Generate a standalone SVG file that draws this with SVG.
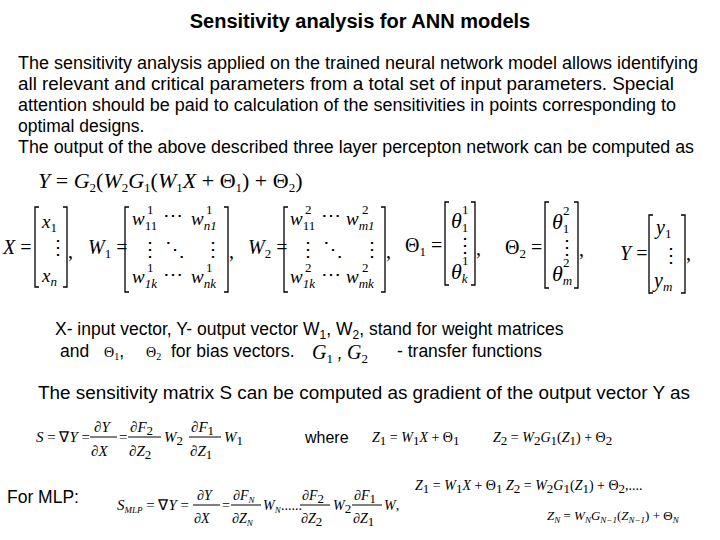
<svg xmlns="http://www.w3.org/2000/svg" width="720" height="540" viewBox="0 0 720 540">
<style>
.t{font-family:"Liberation Sans",Arial,sans-serif;font-size:17.5px;fill:#000}
.m{font-family:"Liberation Serif","Times New Roman",serif;font-style:italic;font-size:20px;fill:#000}
.r{font-family:"Liberation Serif","Times New Roman",serif;font-style:normal;font-size:20px;fill:#000}
.s{font-size:13px}
.e{font-size:19px}
.b{fill:none;stroke:#000;stroke-width:1.3}
.bar{stroke:#000;stroke-width:1}
</style>
<rect width="720" height="540" fill="#fff"/>
<text x="360" y="28" text-anchor="middle" class="t" style="font-size:20px;font-weight:bold">Sensitivity analysis for ANN models</text>
<text x="18" y="69" class="t" textLength="680" lengthAdjust="spacingAndGlyphs">The sensitivity analysis applied on the trained neural network model allows identifying</text>
<text x="18" y="90" class="t" textLength="656" lengthAdjust="spacingAndGlyphs">all relevant and critical parameters from a total set of input parameters. Special</text>
<text x="18" y="111" class="t" textLength="658" lengthAdjust="spacingAndGlyphs">attention should be paid to calculation of the sensitivities in points corresponding to</text>
<text x="18" y="132" class="t">optimal designs.</text>
<text x="18" y="153" class="t" textLength="676" lengthAdjust="spacingAndGlyphs">The output of the above described three layer percepton network can be computed as</text>
<text x="38" y="188" class="m" style="font-size:22px">Y <tspan class="r" style="font-size:22px">=</tspan> G<tspan class="s r" dy="4">2</tspan><tspan dy="-4" class="r" style="font-size:22px">(</tspan>W<tspan class="s r" dy="4">2</tspan><tspan dy="-4">G</tspan><tspan class="s r" dy="4">1</tspan><tspan dy="-4" class="r" style="font-size:22px">(</tspan>W<tspan class="s r" dy="4">1</tspan><tspan dy="-4">X</tspan><tspan class="r" style="font-size:22px"> + Θ</tspan><tspan class="s r" dy="4">1</tspan><tspan dy="-4" class="r" style="font-size:22px">) + Θ</tspan><tspan class="s r" dy="4">2</tspan><tspan dy="-4" class="r" style="font-size:22px">)</tspan></text>
<g id="X">
<text x="3" y="254" class="m">X <tspan class="r">=</tspan></text>
<path class="b" d="M39 207H35V287H39M63 207H67V287H63"/>
<text x="42" y="228" class="m e">x<tspan class="s r" dy="4">1</tspan></text>
<text x="48" y="254" class="r">⋮</text>
<text x="42" y="282" class="m e">x<tspan class="s" dy="4">n</tspan></text>
<text x="68" y="258" class="r">,</text>
</g>
<g id="W1">
<text x="88" y="254" class="m">W<tspan class="s r" dy="4">1</tspan><tspan dy="-4" class="r"> =</tspan></text>
<path class="b" d="M129 207H125V292H129M224 207H228V292H224"/>
<text x="132" y="225" class="m e">w<tspan class="s r" dy="5">11</tspan></text><text x="147" y="214" class="r s">1</text>
<text x="163" y="222" class="r">⋯</text>
<text x="191" y="225" class="m e">w<tspan class="s" dy="5">n1</tspan></text><text x="206" y="214" class="r s">1</text>
<text x="140" y="256" class="r">⋮</text><text x="165" y="256" class="r">⋱</text><text x="203" y="256" class="r">⋮</text>
<text x="132" y="283" class="m e">w<tspan class="s" dy="5">1k</tspan></text><text x="147" y="272" class="r s">1</text>
<text x="163" y="281" class="r">⋯</text>
<text x="191" y="283" class="m e">w<tspan class="s" dy="5">nk</tspan></text><text x="206" y="272" class="r s">1</text>
<text x="229" y="258" class="r">,</text>
</g>
<g id="W2">
<text x="248" y="254" class="m">W<tspan class="s r" dy="4">2</tspan><tspan dy="-4" class="r"> =</tspan></text>
<path class="b" d="M288 207H284V292H288M381 207H385V292H381"/>
<text x="290" y="225" class="m e">w<tspan class="s r" dy="5">11</tspan></text><text x="305" y="214" class="r s">2</text>
<text x="321" y="222" class="r">⋯</text>
<text x="346" y="225" class="m e">w<tspan class="s" dy="5">m1</tspan></text><text x="362" y="214" class="r s">2</text>
<text x="298" y="256" class="r">⋮</text><text x="323" y="256" class="r">⋱</text><text x="362" y="256" class="r">⋮</text>
<text x="290" y="283" class="m e">w<tspan class="s" dy="5">1k</tspan></text><text x="305" y="272" class="r s">2</text>
<text x="321" y="281" class="r">⋯</text>
<text x="346" y="283" class="m e">w<tspan class="s" dy="5">mk</tspan></text><text x="362" y="272" class="r s">2</text>
<text x="386" y="258" class="r">,</text>
</g>
<g id="T1">
<text x="405" y="252" class="r">Θ<tspan class="s" dy="4">1</tspan><tspan dy="-4"> =</tspan></text>
<path class="b" d="M449 202H445V285H449M471 202H475V285H471"/>
<text x="451" y="228" class="m" style="font-size:22px">θ<tspan class="s r" dy="4">1</tspan></text><text x="462" y="214" class="r s">1</text>
<text x="455" y="252" class="r">⋮</text>
<text x="451" y="279" class="m" style="font-size:22px">θ<tspan class="s" dy="4">k</tspan></text><text x="462" y="265" class="r s">1</text>
<text x="476" y="255" class="r">,</text>
</g>
<g id="T2">
<text x="505" y="254" class="r">Θ<tspan class="s" dy="4">2</tspan><tspan dy="-4"> =</tspan></text>
<path class="b" d="M549 202H545V288H549M574 202H578V288H574"/>
<text x="552" y="229" class="m" style="font-size:22px">θ<tspan class="s r" dy="4">1</tspan></text><text x="563" y="215" class="r s">2</text>
<text x="557" y="254" class="r">⋮</text>
<text x="552" y="281" class="m" style="font-size:22px">θ<tspan class="s" dy="4">m</tspan></text><text x="563" y="267" class="r s">2</text>
<text x="579" y="256" class="r">,</text>
</g>
<g id="Y">
<text x="620" y="260" class="m">Y <tspan class="r">=</tspan></text>
<path class="b" d="M653 215H649V293H653M681 215H685V293H681"/>
<text x="656" y="234" class="m">y<tspan class="s r" dy="4">1</tspan></text>
<text x="661" y="262" class="r">⋮</text>
<text x="654" y="287" class="m">y<tspan class="s" dy="4">m</tspan></text>
<text x="686" y="260" class="r">,</text>
</g>
<text x="55" y="335" class="t">X- input vector,   Y-  output vector W<tspan dy="4" style="font-size:12px">1</tspan><tspan dy="-4">, W</tspan><tspan dy="4" style="font-size:12px">2</tspan><tspan dy="-4">, stand for weight matrices</tspan></text>
<text x="60" y="357" class="t">and</text>
<text x="104" y="357" class="r" style="font-size:14px">Θ<tspan style="font-size:10px" dy="3">1</tspan><tspan dy="-3" class="t">,</tspan></text>
<text x="146" y="357" class="r" style="font-size:14px">Θ<tspan style="font-size:10px" dy="3">2</tspan></text>
<text x="171" y="357" class="t">for bias vectors.</text>
<text x="312" y="359" class="m">G<tspan class="s r" dy="4">1</tspan><tspan dy="-4" class="t"> ,</tspan></text>
<text x="347" y="359" class="m">G<tspan class="s r" dy="4">2</tspan></text>
<text x="397" y="357" class="t">- transfer functions</text>
<text x="38" y="399" class="t" textLength="652" lengthAdjust="spacingAndGlyphs">The sensitivity matrix S can be computed as gradient of the output vector Y as</text>
<g id="S">
<text x="36" y="442" class="m" style="font-size:15px">S <tspan class="r" style="font-size:15px">= ∇</tspan>Y <tspan class="r" style="font-size:15px">=</tspan></text>
<text x="94" y="432" class="m" style="font-size:15px">∂Y</text><line class="bar" x1="90" y1="437" x2="117" y2="437"/><text x="91" y="456" class="m" style="font-size:15px">∂X</text>
<text x="119" y="442" class="r" style="font-size:15px">=</text>
<text x="130" y="432" class="m" style="font-size:15px">∂F<tspan class="s r" dy="3">2</tspan></text><line class="bar" x1="128" y1="437" x2="161" y2="437"/><text x="129" y="456" class="m" style="font-size:15px">∂Z<tspan class="s r" dy="3">2</tspan></text>
<text x="164" y="442" class="m" style="font-size:15px">W<tspan class="s r" dy="3">2</tspan></text>
<text x="191" y="432" class="m" style="font-size:15px">∂F<tspan class="s r" dy="3">1</tspan></text><line class="bar" x1="189" y1="437" x2="221" y2="437"/><text x="190" y="456" class="m" style="font-size:15px">∂Z<tspan class="s r" dy="3">1</tspan></text>
<text x="224" y="442" class="m" style="font-size:15px">W<tspan class="s r" dy="3">1</tspan></text>
</g>
<text x="305" y="443" class="t" style="font-size:16px">where</text>
<text x="372" y="442" class="m" style="font-size:14px">Z<tspan class="s r" dy="3">1</tspan><tspan dy="-3" class="r" style="font-size:14px"> = </tspan>W<tspan class="s r" dy="3">1</tspan><tspan dy="-3">X</tspan><tspan class="r" style="font-size:14px"> + Θ</tspan><tspan class="s r" dy="3">1</tspan></text>
<text x="493" y="442" class="m" style="font-size:14px">Z<tspan class="s r" dy="3">2</tspan><tspan dy="-3" class="r" style="font-size:14px"> = </tspan>W<tspan class="s r" dy="3">2</tspan><tspan dy="-3">G</tspan><tspan class="s r" dy="3">1</tspan><tspan dy="-3" class="r" style="font-size:14px">(</tspan>Z<tspan class="s r" dy="3">1</tspan><tspan dy="-3" class="r" style="font-size:14px">) + Θ</tspan><tspan class="s r" dy="3">2</tspan></text>
<text x="7" y="503" class="t">For MLP:</text>
<g id="SMLP">
<text x="117" y="510" class="m" style="font-size:15px">S<tspan style="font-size:9px" dy="3">MLP</tspan><tspan dy="-3" class="r" style="font-size:15px"> = ∇</tspan>Y <tspan class="r" style="font-size:15px">=</tspan></text>
<text x="197" y="500" class="m" style="font-size:14px">∂Y</text><line class="bar" x1="193" y1="505" x2="220" y2="505"/><text x="194" y="523" class="m" style="font-size:14px">∂X</text>
<text x="222" y="510" class="r" style="font-size:14px">=</text>
<text x="233" y="500" class="m" style="font-size:14px">∂F<tspan style="font-size:9px" dy="3">N</tspan></text><line class="bar" x1="231" y1="505" x2="261" y2="505"/><text x="232" y="523" class="m" style="font-size:14px">∂Z<tspan style="font-size:9px" dy="3">N</tspan></text>
<text x="263" y="510" class="m" style="font-size:14px">W<tspan style="font-size:9px" dy="3">N</tspan></text>
<text x="281" y="510" class="r" style="font-size:14px">......</text>
<text x="302" y="500" class="m" style="font-size:14px">∂F<tspan class="s r" dy="3">2</tspan></text><line class="bar" x1="300" y1="505" x2="330" y2="505"/><text x="301" y="523" class="m" style="font-size:14px">∂Z<tspan class="s r" dy="3">2</tspan></text>
<text x="333" y="510" class="m" style="font-size:14px">W<tspan class="s r" dy="3">2</tspan></text>
<text x="354" y="500" class="m" style="font-size:14px">∂F<tspan class="s r" dy="3">1</tspan></text><line class="bar" x1="352" y1="505" x2="382" y2="505"/><text x="353" y="523" class="m" style="font-size:14px">∂Z<tspan class="s r" dy="3">1</tspan></text>
<text x="384" y="510" class="m" style="font-size:14px">W<tspan class="r" style="font-size:14px">,</tspan></text>
</g>
<text x="415" y="490" class="m" style="font-size:14px">Z<tspan class="s r" dy="3">1</tspan><tspan dy="-3" class="r" style="font-size:14px"> = </tspan>W<tspan class="s r" dy="3">1</tspan><tspan dy="-3">X</tspan><tspan class="r" style="font-size:14px"> + Θ</tspan><tspan class="s r" dy="3">1</tspan><tspan dy="-3"> Z</tspan><tspan class="s r" dy="3">2</tspan><tspan dy="-3" class="r" style="font-size:14px"> = </tspan>W<tspan class="s r" dy="3">2</tspan><tspan dy="-3">G</tspan><tspan class="s r" dy="3">1</tspan><tspan dy="-3" class="r" style="font-size:14px">(</tspan>Z<tspan class="s r" dy="3">1</tspan><tspan dy="-3" class="r" style="font-size:14px">) + Θ</tspan><tspan class="s r" dy="3">2</tspan><tspan dy="-3" class="r" style="font-size:14px">,....</tspan></text>
<text x="547" y="520" class="m" style="font-size:13px">Z<tspan style="font-size:9px" dy="3">N</tspan><tspan dy="-3" class="r" style="font-size:13px"> = </tspan>W<tspan style="font-size:9px" dy="3">N</tspan><tspan dy="-3">G</tspan><tspan style="font-size:9px" dy="3">N−1</tspan><tspan dy="-3" class="r" style="font-size:13px">(</tspan>Z<tspan style="font-size:9px" dy="3">N−1</tspan><tspan dy="-3" class="r" style="font-size:13px">) + Θ</tspan><tspan style="font-size:9px" dy="3">N</tspan></text>
</svg>
